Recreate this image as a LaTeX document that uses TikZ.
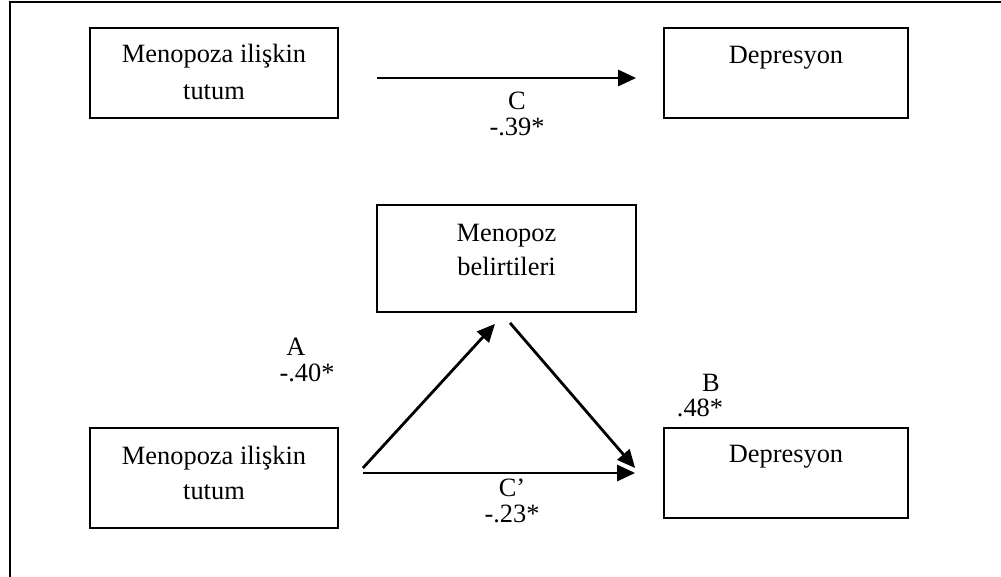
\documentclass[tikz,border=0pt]{standalone}
\usepackage{fontspec}
\setmainfont{Liberation Serif}
\usetikzlibrary{arrows.meta}
\usetikzlibrary{calc}
\newcommand{\boxfont}[1]{\fontsize{26.4pt}{#1pt}\selectfont}

\tikzset{
  varbox/.style={draw, line width=1.8pt, inner sep=0pt},
  boxtext/.style={anchor=north, inner sep=0pt, align=center},
  pathlbl/.style={anchor=base, inner sep=0pt, font=\boxfont{30}},
  pathpair/.style={anchor=north, inner sep=0pt, align=center, font=\boxfont{26}},
  arr/.style={line width=2.8pt, -{Triangle[length=18pt,width=16pt]}}
}

\begin{document}
\begin{tikzpicture}[x=1pt, y=-1pt]
        \useasboundingbox (0,0) rectangle (1001,577);
        % frame
        \draw[line width=1.8pt] (10,577) -- (10,2) -- (1001,2);

        % total effect
        \node[varbox, minimum width=248pt, minimum height=90pt,
              label={[boxtext, font=\boxfont{37}, yshift=-17pt]north:Menopoza ilişkin\\tutum}] (att1) at (214,73) {};
        \node[varbox, minimum width=244pt, minimum height=90pt,
              label={[boxtext, font=\boxfont{37}, yshift=-18.5pt]north:Depresyon}] (dep1) at (786,73) {};

        \draw[arr] ($(att1.east)+(38,5)$) -- ($(dep1.west)+(-27,5)$);
        \node[pathpair] (lblC) at (517,92) {C\\-.39*};

        % mediation
        \node[varbox, minimum width=259pt, minimum height=107pt,
              label={[boxtext, font=\boxfont{34}, yshift=-19.5pt]north:Menopoz\\belirtileri}] (sym) at (506.5,258.5) {};
        \node[varbox, minimum width=248pt, minimum height=100pt,
              label={[boxtext, font=\boxfont{35}, yshift=-19pt]north:Menopoza ilişkin\\tutum}] (att2) at (214,478) {};
        \node[varbox, minimum width=244pt, minimum height=90pt,
              label={[boxtext, font=\boxfont{37}, yshift=-17.5pt]north:Depresyon}] (dep2) at (786,473) {};

        \draw[arr] ($(att2.east)+(24,-10)$) -- ($(sym.south)+(-11.5,11)$);
        \draw[arr] ($(sym.south)+(3.5,10)$) -- ($(dep2.west)+(-28,-5)$);
        \draw[arr] ($(att2.east)+(24,-5)$) -- ($(dep2.west)+(-28,0)$);

        \node[pathlbl] (lblA) at (296,355) {A};
        \node[pathlbl] (valA) at (307,381) {-.40*};
        \node[pathlbl] (lblB) at (711,391) {B};
        \node[pathlbl] (valB) at (700,416) {.48*};
        \node[pathpair] (lblCp) at (512,479) {C’\\-.23*};

    \end{tikzpicture}
\end{document}
